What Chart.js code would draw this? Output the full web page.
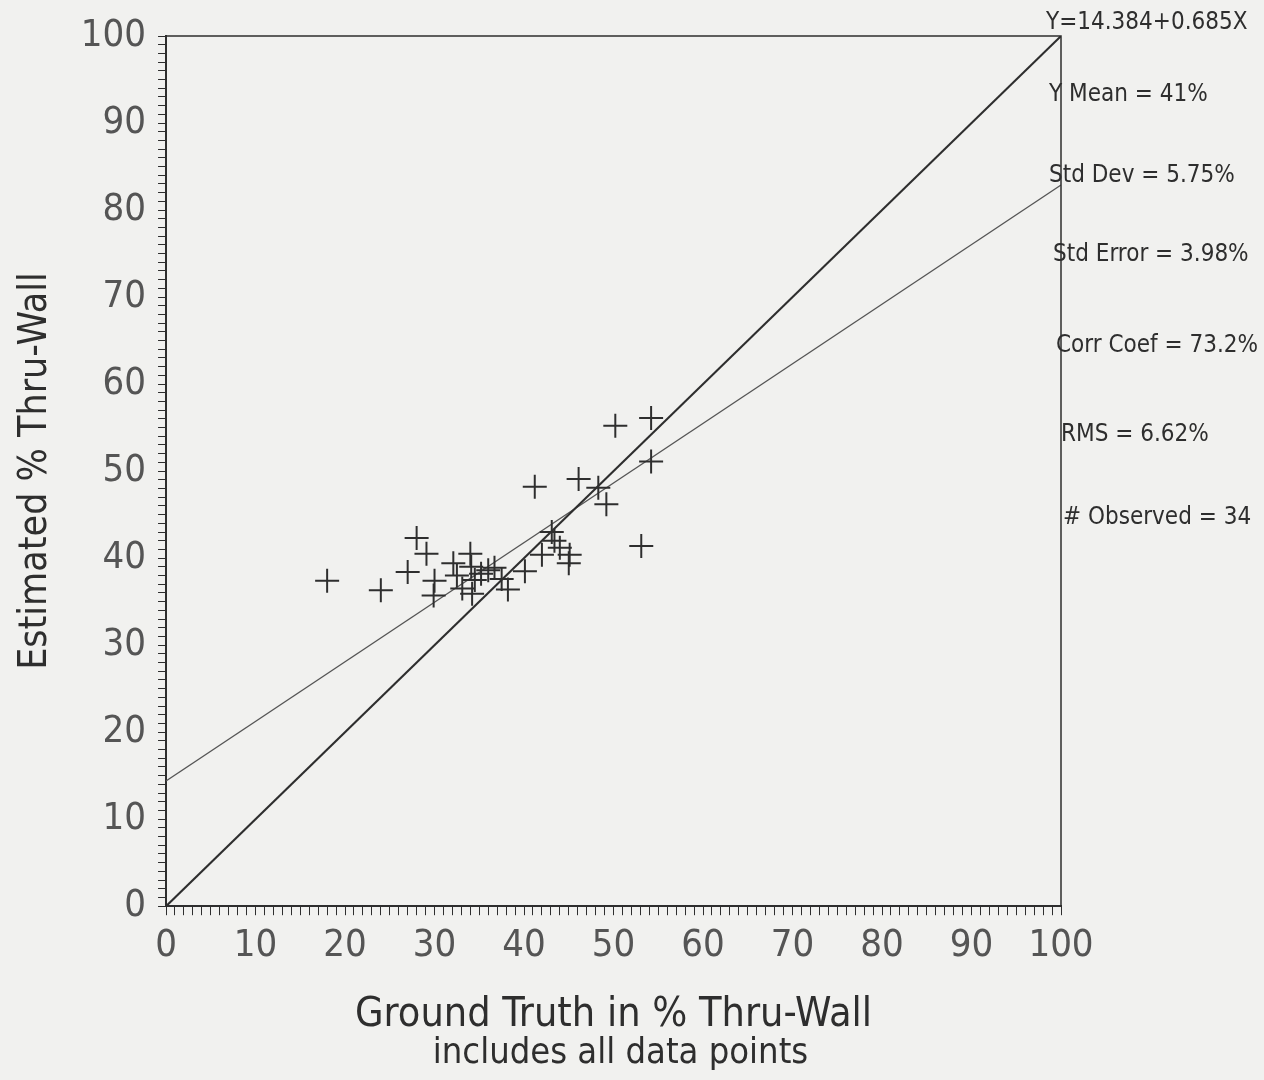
<!DOCTYPE html>
<html>
<head>
<meta charset="utf-8">
<script src="https://cdn.jsdelivr.net/npm/chart.js@4.4.0/dist/chart.umd.min.js"></script>
<style>
  html, body { margin: 0; padding: 0; background: #f1f1ef; }
  #wrap { width: 1264px; height: 1080px; position: relative; }
</style>
</head>
<body>
<div id="wrap"><canvas id="thruWallChart"></canvas></div>
<script>
// ground truth (x) vs estimated (y), % thru-wall
var groundTruth = [18.0, 24.0, 27.0, 28.0, 29.1, 30.0, 29.9, 32.1, 34.0, 34.1,
                   33.1, 34.2, 34.5, 35.2, 36.0, 36.7, 38.2, 40.1, 41.2, 42.0,
                   43.1, 43.4, 45.1, 45.0, 46.1, 48.3, 49.2, 50.2, 54.2, 54.2,
                   53.1, 44.0, 32.5, 37.5];
var estimated   = [37.4, 36.3, 38.4, 42.3, 40.5, 37.4, 35.7, 39.4, 40.5, 39.0,
                   36.5, 35.9, 37.5, 38.2, 38.6, 38.9, 36.4, 38.5, 48.2, 40.4,
                   43.0, 42.0, 40.4, 39.4, 49.1, 48.1, 46.2, 55.2, 56.1, 51.1,
                   41.4, 41.2, 38.0, 37.6];

// reference line (1:1) and fitted line end points
var idealX = [0, 100];
var idealY = [0, 100];
var fitX = [0, 100];
var fitY = [14.384, 82.884];

var statsText = [
  'Y=14.384+0.685X',
  'Y Mean = 41%',
  'Std Dev = 5.75%',
  'Std Error = 3.98%',
  'Corr Coef = 73.2%',
  'RMS = 6.62%',
  '# Observed = 34'
];
var subtitleText = 'includes all data points';

var FONT = '"DejaVu Sans Condensed", "Liberation Sans Narrow", "DejaVu Sans", sans-serif';
var INK = '#2e2e2e';

function toPoints(xs, ys) {
  return xs.map(function (x, i) { return { x: x, y: ys[i] }; });
}

var frameAndStats = {
  id: 'frameAndStats',
  afterDraw: function (chart) {
    var ctx = chart.ctx, a = chart.chartArea;
    ctx.save();
    ctx.strokeStyle = INK;
    ctx.lineWidth = 1.5;
    ctx.beginPath();
    ctx.moveTo(a.left, a.top);
    ctx.lineTo(a.right, a.top);
    ctx.lineTo(a.right, a.bottom);
    ctx.stroke();

    // stats block to the right of the frame
    var offsets = [-13, 59, 140, 219, 310, 399, 482];
    var indent = [-15, -12, -12, -8, -5, 0, 2];
    ctx.fillStyle = INK;
    ctx.font = '24px ' + FONT;
    ctx.textBaseline = 'middle';
    statsText.forEach(function (t, i) {
      ctx.fillText(t, a.right + indent[i], a.top + offsets[i]);
    });

    // note under the axis title
    ctx.font = '36px ' + FONT;
    ctx.textAlign = 'center';
    ctx.fillText(subtitleText, (a.left + a.right) / 2 + 7, 1054);
    ctx.restore();
  }
};

var ctx = document.getElementById('thruWallChart').getContext('2d');
var chart = new Chart(ctx, {
  type: 'scatter',
  data: {
    datasets: [
      {
        label: 'Observed',
        data: toPoints(groundTruth, estimated),
        pointStyle: 'cross',
        pointRadius: 12,
        pointBorderWidth: 2,
        borderColor: INK,
        backgroundColor: INK
      },
      {
        label: '1:1',
        type: 'line',
        data: toPoints(idealX, idealY),
        borderColor: INK,
        borderWidth: 2,
        pointRadius: 0,
        fill: false
      },
      {
        label: 'Fit',
        type: 'line',
        data: toPoints(fitX, fitY),
        borderColor: '#555',
        borderWidth: 1.3,
        pointRadius: 0,
        fill: false
      }
    ]
  },
  options: {
    responsive: true,
    maintainAspectRatio: false,
    animation: false,
    layout: { padding: { top: 36, right: 203, bottom: 38, left: 12 } },
    plugins: {
      legend: { display: false },
      tooltip: { enabled: false }
    },
    scales: {
      x: {
        type: 'linear',
        min: 0,
        max: 100,
        border: { display: true, color: INK, width: 2 },
        grid: { display: true, drawOnChartArea: false, drawTicks: true, tickLength: 9, color: INK },
        ticks: {
          stepSize: 1,
          autoSkip: false,
          maxTicksLimit: 200,
          maxRotation: 0,
          padding: 8,
          color: '#555',
          font: { family: FONT, size: 38 },
          callback: function (v) { return v % 10 === 0 ? String(v) : ''; }
        },
        title: {
          display: true,
          text: 'Ground Truth in % Thru-Wall',
          color: INK,
          font: { family: FONT, size: 41 },
          padding: { top: 14, bottom: 2 }
        }
      },
      y: {
        type: 'linear',
        min: 0,
        max: 100,
        border: { display: true, color: INK, width: 2 },
        grid: { display: true, drawOnChartArea: false, drawTicks: true, tickLength: 8, color: INK },
        ticks: {
          stepSize: 1,
          autoSkip: false,
          maxTicksLimit: 200,
          padding: 12,
          color: '#555',
          font: { family: FONT, size: 38 },
          callback: function (v) { return v % 10 === 0 ? String(v) : ''; }
        },
        title: {
          display: true,
          text: 'Estimated % Thru-Wall',
          color: INK,
          font: { family: FONT, size: 39 },
          padding: { top: 0, bottom: 10 }
        }
      }
    }
  },
  plugins: [frameAndStats]
});
</script>
</body>
</html>
